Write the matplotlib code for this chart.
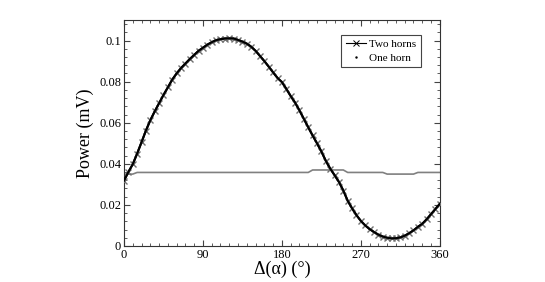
import matplotlib
matplotlib.use("Agg")
import matplotlib.pyplot as plt
from matplotlib.ticker import MultipleLocator, FuncFormatter
from matplotlib.lines import Line2D

plt.rcParams['font.family'] = ['Liberation Serif', 'DejaVu Serif']

# angle in degrees
angles = list(range(0, 361, 5))

two_horns = [
    0.0318, 0.0360, 0.0398, 0.0450, 0.0505, 0.0562, 0.0612, 0.0655, 0.0695, 0.0735,
    0.0772, 0.0810, 0.0840, 0.0866, 0.0888, 0.0910, 0.0930, 0.0950, 0.0965, 0.0980,
    0.0992, 0.1002, 0.1007, 0.1010, 0.1011, 0.1010, 0.1003, 0.0995, 0.0985, 0.0970,
    0.0950, 0.0925, 0.0900, 0.0873, 0.0845, 0.0818, 0.0798, 0.0765, 0.0730, 0.0698,
    0.0660, 0.0619, 0.0578, 0.0538, 0.0500, 0.0460, 0.0415, 0.0377, 0.0345, 0.0312,
    0.0270, 0.0220, 0.0183, 0.0150, 0.0122, 0.0100, 0.0082, 0.0068, 0.0055, 0.0046,
    0.0040, 0.0037, 0.0038, 0.0042, 0.0050, 0.0062, 0.0076, 0.0093, 0.0108, 0.0130,
    0.0155, 0.0180, 0.0205,
]

one_horn = [
    0.0350, 0.0350, 0.0350, 0.0358, 0.0358, 0.0358, 0.0358, 0.0358, 0.0358, 0.0358,
    0.0358, 0.0358, 0.0358, 0.0358, 0.0358, 0.0358, 0.0358, 0.0358, 0.0358, 0.0358,
    0.0358, 0.0358, 0.0358, 0.0358, 0.0358, 0.0358, 0.0358, 0.0358, 0.0358, 0.0358,
    0.0358, 0.0358, 0.0358, 0.0358, 0.0358, 0.0358, 0.0358, 0.0358, 0.0358, 0.0358,
    0.0358, 0.0358, 0.0358, 0.0370, 0.0370, 0.0370, 0.0370, 0.0370, 0.0370, 0.0370,
    0.0370, 0.0358, 0.0358, 0.0358, 0.0358, 0.0358, 0.0358, 0.0358, 0.0358, 0.0358,
    0.0350, 0.0350, 0.0350, 0.0350, 0.0350, 0.0350, 0.0350, 0.0358, 0.0358, 0.0358,
    0.0358, 0.0358, 0.0358,
]

xticks = [0, 90, 180, 270, 360]
yticks = [0, 0.02, 0.04, 0.06, 0.08, 0.1]

fig = plt.figure(figsize=(5.45, 2.82), dpi=100)
ax = fig.add_axes([0.2275, 0.1277, 0.807 - 0.2275, 0.929 - 0.1277])

ax.plot(angles, one_horn, color='#808080', lw=1.2, zorder=2)
ax.plot(angles, two_horns, color='black', lw=1.5, marker='x', markersize=5,
        markeredgecolor='#707070', markeredgewidth=1.0, zorder=3)
ax.plot(angles, two_horns, color='black', lw=1.5, zorder=4)

ax.set_xlim(0, 360)
ax.set_ylim(0, 0.11)
ax.set_xticks(xticks)
ax.set_yticks(yticks)
ax.xaxis.set_minor_locator(MultipleLocator(10))
ax.yaxis.set_minor_locator(MultipleLocator(0.004))
ax.yaxis.set_major_formatter(FuncFormatter(lambda v, p: '%g' % v))
ax.xaxis.set_major_formatter(FuncFormatter(lambda v, p: '%g' % v))
ax.tick_params(which='both', direction='in', top=True, right=True,
               labelsize=9, color='#444444', pad=2)
ax.tick_params(which='major', length=4, width=0.8)
ax.tick_params(which='minor', length=2, width=0.6)
for s in ax.spines.values():
    s.set_linewidth(0.8)
    s.set_color('#333333')

ax.set_xlabel('Δ(α) (°)', fontsize=13, labelpad=0)
ax.set_ylabel('Power (mV)', fontsize=13, labelpad=4)

handles = [
    Line2D([], [], color='black', lw=0.8, marker='x', markersize=4, markeredgewidth=0.7),
    Line2D([], [], color='black', lw=0, marker='.', markersize=1.5),
]
leg = ax.legend(handles, ['Two horns', 'One horn'], loc='upper left',
                bbox_to_anchor=(0.688, 0.935), fontsize=8, frameon=True, fancybox=False,
                edgecolor='#444444', framealpha=1, handlelength=1.8,
                handletextpad=0.3, borderpad=0.4, labelspacing=0.35, borderaxespad=0)
leg.get_frame().set_linewidth(0.8)

fig.savefig('out.png', dpi=100)
